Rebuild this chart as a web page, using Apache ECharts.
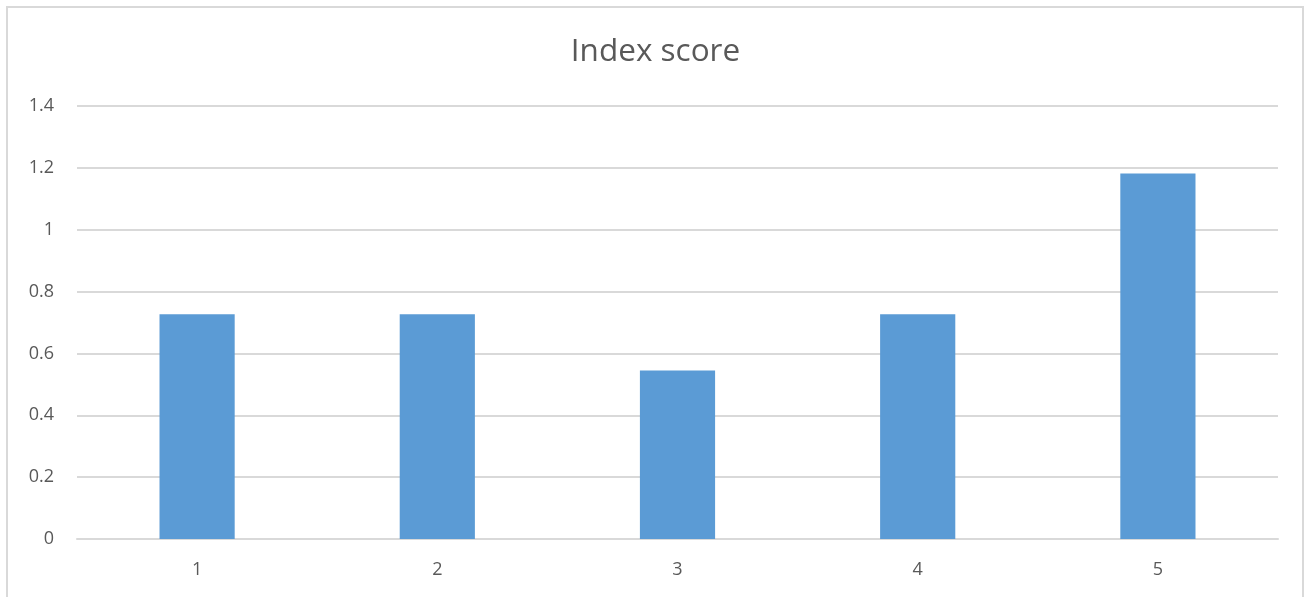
<!DOCTYPE html>
<html>
<head>
<meta charset="utf-8">
<title>Index score</title>
<script src="https://cdn.jsdelivr.net/npm/echarts@6/dist/echarts.min.js"></script>
<style>
  html, body { margin: 0; padding: 0; background: #fff; overflow: hidden; }
  #frame {
    position: absolute; left: 6px; top: 6px; width: 1298px; height: 620px;
    border: 2px solid #d9d9d9; box-sizing: border-box;
  }
  #main { position: absolute; left: 0; top: 0; width: 1311px; height: 597px; }
</style>
</head>
<body>
<div id="frame"></div>
<div id="main"></div>
<script>
// chart data
var categories = ['1', '2', '3', '4', '5'];
var scores = [0.727, 0.727, 0.545, 0.727, 1.182];
var yTicks = { min: 0, max: 1.4, step: 0.2 };

var myChart = echarts.init(document.getElementById('main'));

var option = {
  animation: false,
  title: {
    text: 'Index score',
    left: 'center',
    top: 31,
    textStyle: {
      fontFamily: 'Open Sans',
      fontSize: 31.5,
      fontWeight: 'normal',
      color: '#595959'
    }
  },
  grid: {
    left: 77,
    right: 33,
    top: 106,
    bottom: 58
  },
  xAxis: {
    type: 'category',
    data: categories,
    axisTick: { show: false },
    axisLine: { lineStyle: { color: '#d9d9d9', width: 2 } },
    axisLabel: {
      color: '#595959',
      fontFamily: 'Open Sans',
      fontSize: 18,
      margin: 22
    }
  },
  yAxis: {
    type: 'value',
    min: yTicks.min,
    max: yTicks.max,
    interval: yTicks.step,
    axisLine: { show: false },
    axisTick: { show: false },
    splitLine: { lineStyle: { color: '#d9d9d9', width: 2 } },
    axisLabel: {
      color: '#595959',
      fontFamily: 'Open Sans',
      fontSize: 18,
      margin: 23,
      formatter: function (v) { return String(Math.round(v * 10) / 10); }
    }
  },
  series: [
    {
      name: 'Index score',
      type: 'bar',
      data: scores,
      barWidth: '31.3%',
      itemStyle: { color: '#5b9bd5' }
    }
  ]
};
myChart.setOption(option);
</script>
</body>
</html>
